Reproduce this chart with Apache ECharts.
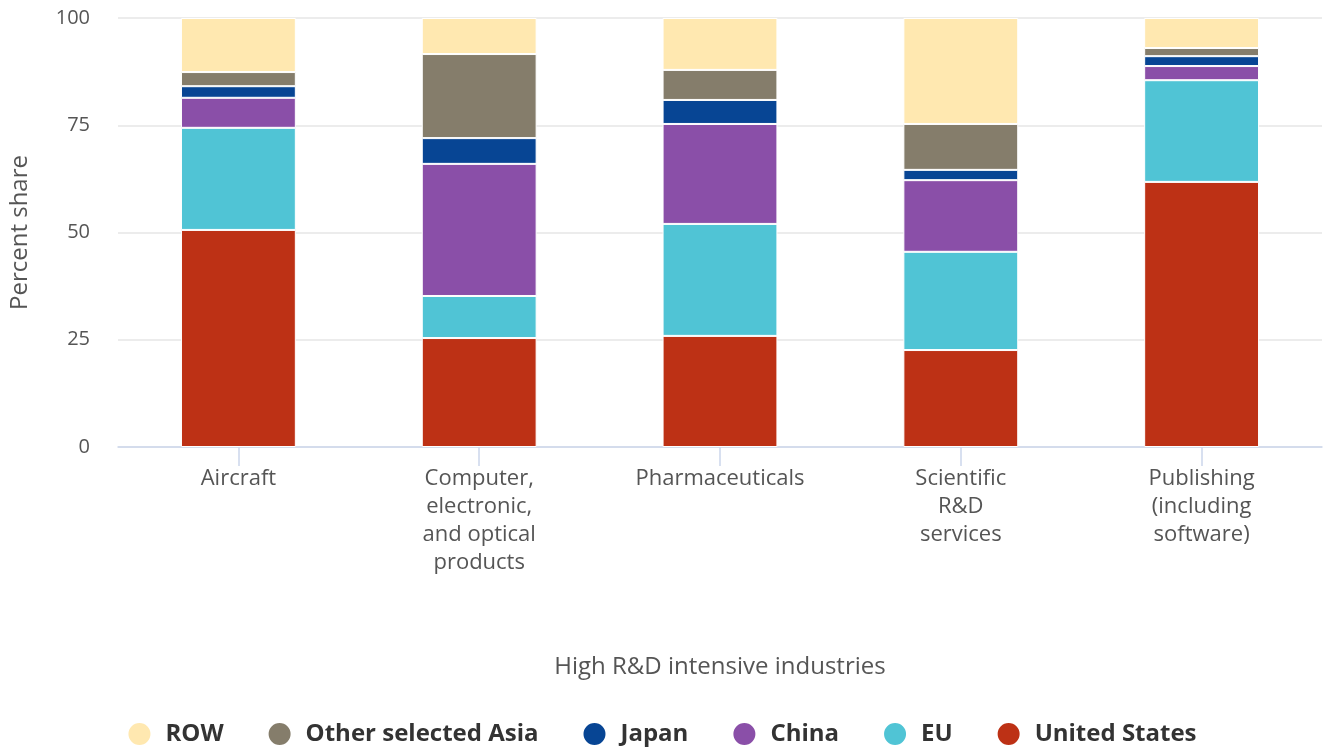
<!DOCTYPE html>
<html>
<head>
<meta charset="utf-8">
<script src="https://cdn.jsdelivr.net/npm/echarts@6/dist/echarts.min.js"></script>
<style>
html,body{margin:0;padding:0;background:#fff;}
#chart{width:1323px;height:747px;}
</style>
</head>
<body>
<div id="chart"></div>
<script>
const categories = ["Aircraft", "Computer,\nelectronic,\nand optical\nproducts", "Pharmaceuticals", "Scientific\nR&D\nservices", "Publishing\n(including\nsoftware)"];
const unitedStates = [50.6, 25.4, 25.9, 22.6, 61.8];
const eu = [23.8, 9.8, 26.1, 22.9, 23.7];
const china = [7.0, 30.8, 23.3, 16.7, 3.3];
const japan = [2.7, 6.0, 5.6, 2.4, 2.3];
const otherAsia = [3.3, 19.6, 7.0, 10.7, 1.9];
const row = [12.6, 8.4, 12.1, 24.7, 7.0];
const yTicks = [0, 25, 50, 75, 100];

const seriesDefs = [
  {name: "United States", data: unitedStates, color: "#BD3115"},
  {name: "EU", data: eu, color: "#50C4D5"},
  {name: "China", data: china, color: "#8A4FA8"},
  {name: "Japan", data: japan, color: "#074594"},
  {name: "Other selected Asia", data: otherAsia, color: "#857D6B"},
  {name: "ROW", data: row, color: "#FFE8B0"}
];

const chart = echarts.init(document.getElementById('chart'), null, {renderer: 'canvas'});
chart.setOption({
  animation: false,
  textStyle: {fontFamily: "Open Sans"},
  grid: {left: 118, right: 1, top: 18, bottom: 300, containLabel: false},
  legend: {
    data: ["ROW", "Other selected Asia", "Japan", "China", "EU", "United States"],
    top: 721,
    left: 'center',
    padding: 0,
    icon: 'circle',
    itemWidth: 24,
    itemHeight: 24,
    itemGap: 43,
    textStyle: {fontSize: 24, fontWeight: 'bold', color: '#333', fontFamily: "Open Sans", padding: [0, 0, 0, 9]}
  },
  xAxis: {
    type: 'category',
    data: categories,
    name: 'High R&D intensive industries',
    nameLocation: 'middle',
    nameGap: 208,
    nameTextStyle: {fontSize: 24, color: '#555'},
    axisLine: {lineStyle: {color: '#ccd6eb', width: 1.5}},
    axisTick: {show: true, alignWithLabel: true, length: 19, lineStyle: {color: '#ccd6eb', width: 1.5}},
    axisLabel: {fontSize: 22, color: '#555', lineHeight: 28, margin: 18, interval: 0}
  },
  yAxis: {
    type: 'value',
    min: 0, max: 100, interval: 25,
    name: 'Percent share',
    nameLocation: 'middle',
    nameGap: 86,
    nameTextStyle: {fontSize: 24, color: '#555'},
    axisLine: {show: false},
    axisTick: {show: false},
    splitLine: {lineStyle: {color: '#e6e6e6', width: 1.5}},
    axisLabel: {fontSize: 20, color: '#555', margin: 28,
      formatter: v => yTicks.includes(v) ? String(v) : ''}
  },
  series: seriesDefs.map(s => ({
    name: s.name,
    type: 'bar',
    stack: 'total',
    data: s.data,
    barWidth: '47.7%',
    itemStyle: {color: s.color, borderColor: '#fff', borderWidth: 1}
  }))
});
</script>
</body>
</html>
